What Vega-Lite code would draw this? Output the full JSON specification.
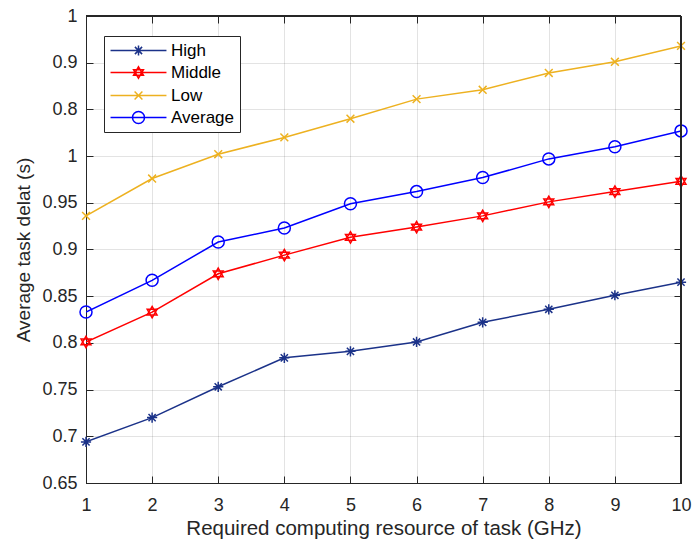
{
  "$schema": "https://vega.github.io/schema/vega-lite/v6.json",
  "width": 595,
  "height": 467,
  "autosize": {"type": "none"},
  "padding": {"left": 86, "top": 16, "right": 11, "bottom": 65},
  "background": "white",
  "config": {
    "font": "Liberation Sans",
    "view": {"stroke": "#262626", "strokeWidth": 1},
    "axis": {
      "domainColor": "#262626",
      "domainWidth": 1,
      "tickColor": "#262626",
      "tickSize": -7,
      "tickWidth": 1,
      "gridColor": "#000000",
      "gridOpacity": 0.11,
      "gridWidth": 1,
      "labelColor": "#262626",
      "labelFont": "Liberation Sans",
      "labelFontSize": 18,
      "titleColor": "#262626",
      "titleFont": "Liberation Sans",
      "titleFontWeight": "normal"
    }
  },
  "resolve": {"axis": {"x": "independent", "y": "independent"}},
  "data": {
    "values": [
      {"x": 1, "level": "High", "delay": 0.694},
      {"x": 2, "level": "High", "delay": 0.720},
      {"x": 3, "level": "High", "delay": 0.753},
      {"x": 4, "level": "High", "delay": 0.784},
      {"x": 5, "level": "High", "delay": 0.791},
      {"x": 6, "level": "High", "delay": 0.801},
      {"x": 7, "level": "High", "delay": 0.822},
      {"x": 8, "level": "High", "delay": 0.836},
      {"x": 9, "level": "High", "delay": 0.851},
      {"x": 10, "level": "High", "delay": 0.865},
      {"x": 1, "level": "Middle", "delay": 0.801},
      {"x": 2, "level": "Middle", "delay": 0.833},
      {"x": 3, "level": "Middle", "delay": 0.874},
      {"x": 4, "level": "Middle", "delay": 0.894},
      {"x": 5, "level": "Middle", "delay": 0.913},
      {"x": 6, "level": "Middle", "delay": 0.924},
      {"x": 7, "level": "Middle", "delay": 0.936},
      {"x": 8, "level": "Middle", "delay": 0.951},
      {"x": 9, "level": "Middle", "delay": 0.962},
      {"x": 10, "level": "Middle", "delay": 0.973},
      {"x": 1, "level": "Low", "delay": 0.936},
      {"x": 2, "level": "Low", "delay": 0.976},
      {"x": 3, "level": "Low", "delay": 1.002},
      {"x": 4, "level": "Low", "delay": 1.020},
      {"x": 5, "level": "Low", "delay": 1.040},
      {"x": 6, "level": "Low", "delay": 1.061},
      {"x": 7, "level": "Low", "delay": 1.071},
      {"x": 8, "level": "Low", "delay": 1.089},
      {"x": 9, "level": "Low", "delay": 1.101},
      {"x": 10, "level": "Low", "delay": 1.118},
      {"x": 1, "level": "Average", "delay": 0.833},
      {"x": 2, "level": "Average", "delay": 0.867},
      {"x": 3, "level": "Average", "delay": 0.908},
      {"x": 4, "level": "Average", "delay": 0.923},
      {"x": 5, "level": "Average", "delay": 0.949},
      {"x": 6, "level": "Average", "delay": 0.962},
      {"x": 7, "level": "Average", "delay": 0.977},
      {"x": 8, "level": "Average", "delay": 0.997},
      {"x": 9, "level": "Average", "delay": 1.010},
      {"x": 10, "level": "Average", "delay": 1.027}
    ]
  },
  "layer": [
    {
      "mark": {"type": "line", "strokeWidth": 1.5, "clip": true},
      "encoding": {
        "x": {
          "field": "x", "type": "quantitative",
          "scale": {"domain": [1, 10], "nice": false, "zero": false},
          "axis": {"orient": "bottom", "values": [1,2,3,4,5,6,7,8,9,10], "title": "Required computing resource of task (GHz)", "titleFontSize": 20.5, "labelPadding": 20, "titlePadding": 4, "labelFlush": false}
        },
        "y": {
          "field": "delay", "type": "quantitative",
          "scale": {"domain": [0.65, 1.15], "nice": false, "zero": false},
          "axis": {"orient": "left", "values": [0.65,0.7,0.75,0.8,0.85,0.9,0.95,1,1.05,1.1,1.15], "format": ".2~f", "labelExpr": "datum.value > 1.12 ? '1' : datum.value > 1.07 ? '0.9' : datum.value > 1.02 ? '0.8' : datum.label", "title": "Average task delat (s)", "titleFontSize": 19, "labelPadding": 16, "titlePadding": 8, "labelFlush": false}
        },
        "stroke": {
          "field": "level", "type": "nominal",
          "scale": {"domain": ["High", "Middle", "Low", "Average"], "range": ["#1b3289", "#ff0000", "#edb120", "#0000ff"]},
          "legend": {
            "title": null,
            "orient": "none",
            "legendX": 18,
            "legendY": 20,
            "fillColor": "white",
            "strokeColor": "#262626",
            "padding": 5,
            "labelFont": "Liberation Sans",
            "labelFontSize": 17,
            "labelColor": "#000000",
            "symbolSize": 289,
            "symbolOffset": 20,
            "labelOffset": 23,
            "rowPadding": 4,
            "symbolStrokeWidth": 1.5,
            "encode": {
              "symbols": {
                "update": {
                  "shape": {"signal": "datum.value === 'High' ? 'M-3.29,0H3.29M0,-0.6V0.6M-0.424,-0.424L0.424,0.424M-0.424,0.424L0.424,-0.424' : datum.value === 'Middle' ? 'M-3.29,0H3.29M0,-0.67L0.58,0.335L-0.58,0.335ZM0,0.67L0.58,-0.335L-0.58,-0.335Z' : datum.value === 'Low' ? 'M-3.29,0H3.29M-0.46,-0.46L0.46,0.46M-0.46,0.46L0.46,-0.46' : 'M-3.29,0H3.29M0.706,0A0.706,0.706 0 1,1 -0.706,0A0.706,0.706 0 1,1 0.706,0Z'"},
                  "size": {"value": 289},
                  "fill": {"value": "transparent"},
                  "strokeWidth": {"value": 1.5}
                }
              }
            }
          }
        },
        "detail": {"field": "level"}
      }
    },
    {
      "transform": [{"filter": "datum.level === 'High'"}],
      "mark": {"type": "point", "filled": false, "size": 144, "strokeWidth": 1.5, "opacity": 1, "color": "#1b3289", "shape": "M-0.85,0H0.85M0,-0.85V0.85M-0.6,-0.6L0.6,0.6M-0.6,0.6L0.6,-0.6"},
      "encoding": {
        "x": {"field": "x", "type": "quantitative", "axis": {"orient": "top", "values": [1,2,3,4,5,6,7,8,9,10], "labels": false, "domain": true, "ticks": true, "tickSize": -7, "domainColor": "#262626", "tickColor": "#262626", "title": null, "grid": false, "zindex": 2}},
        "y": {"field": "delay", "type": "quantitative", "axis": {"orient": "right", "values": [0.65,0.7,0.75,0.8,0.85,0.9,0.95,1,1.05,1.1,1.15], "labels": false, "domain": true, "ticks": true, "tickSize": -7, "domainColor": "#262626", "tickColor": "#262626", "title": null, "grid": false, "zindex": 2}}
      }
    },
    {
      "transform": [{"filter": "datum.level === 'Middle'"}],
      "mark": {"type": "point", "filled": false, "size": 144, "strokeWidth": 1.5, "opacity": 1, "color": "#ff0000", "shape": "M0,-0.95L0.823,0.475L-0.823,0.475ZM0,0.95L0.823,-0.475L-0.823,-0.475Z"},
      "encoding": {
        "x": {"field": "x", "type": "quantitative", "axis": null},
        "y": {"field": "delay", "type": "quantitative", "axis": null}
      }
    },
    {
      "transform": [{"filter": "datum.level === 'Low'"}],
      "mark": {"type": "point", "filled": false, "size": 144, "strokeWidth": 1.5, "opacity": 1, "color": "#edb120", "shape": "M-0.65,-0.65L0.65,0.65M-0.65,0.65L0.65,-0.65"},
      "encoding": {
        "x": {"field": "x", "type": "quantitative", "axis": null},
        "y": {"field": "delay", "type": "quantitative", "axis": null}
      }
    },
    {
      "transform": [{"filter": "datum.level === 'Average'"}],
      "mark": {"type": "point", "filled": false, "size": 144, "strokeWidth": 1.5, "opacity": 1, "color": "#0000ff", "shape": "M1,0A1,1 0 1,1 -1,0A1,1 0 1,1 1,0Z"},
      "encoding": {
        "x": {"field": "x", "type": "quantitative", "axis": null},
        "y": {"field": "delay", "type": "quantitative", "axis": null}
      }
    },
    {
      "mark": {"type": "rule", "color": "#262626", "strokeWidth": 1},
      "encoding": {"x": {"datum": 10, "type": "quantitative", "axis": null}}
    },
    {
      "mark": {"type": "rule", "color": "#262626", "strokeWidth": 1},
      "encoding": {"y": {"datum": 1.15, "type": "quantitative", "axis": null}}
    }
  ]
}
